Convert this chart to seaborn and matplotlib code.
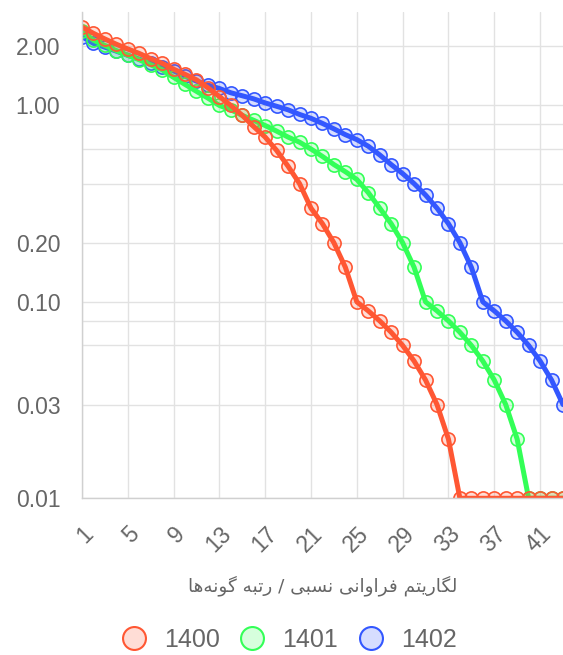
import pandas as pd
import numpy as np
import seaborn as sns
import matplotlib.pyplot as plt
from matplotlib.colors import to_rgba
from matplotlib.lines import Line2D
from matplotlib.ticker import FixedLocator, FixedFormatter

# rank of species (x) and relative frequency per year (y, log scale)
rank = list(range(1, 44))
years = ['1400', '1401', '1402']
colors = ['#FF5733', '#33FF57', '#3357FF']

y1400 = [2.51, 2.33, 2.18, 2.05, 1.94, 1.84, 1.73, 1.64, 1.53, 1.44,
         1.35, 1.23, 1.11, 1.00, 0.89, 0.78, 0.69, 0.59, 0.49, 0.40,
         0.30, 0.25, 0.20, 0.15, 0.10, 0.09, 0.08, 0.07, 0.06, 0.05,
         0.04, 0.03, 0.02, 0.01, 0.01, 0.01, 0.01, 0.01, 0.01, 0.01,
         0.01, 0.01, 0.01]
y1401 = [2.39, 2.15, 2.02, 1.90, 1.80, 1.71, 1.61, 1.52, 1.39, 1.28,
         1.18, 1.09, 1.00, 0.95, 0.89, 0.84, 0.79, 0.74, 0.69, 0.65,
         0.60, 0.55, 0.50, 0.46, 0.42, 0.36, 0.30, 0.25, 0.20, 0.15,
         0.10, 0.09, 0.08, 0.07, 0.06, 0.05, 0.04, 0.03, 0.02, 0.01,
         0.01, 0.01, 0.01]
y1402 = [2.24, 2.07, 1.98, 1.89, 1.80, 1.72, 1.64, 1.57, 1.50, 1.41,
         1.33, 1.27, 1.22, 1.16, 1.12, 1.08, 1.03, 0.99, 0.95, 0.90,
         0.86, 0.81, 0.76, 0.71, 0.67, 0.62, 0.56, 0.50, 0.45, 0.40,
         0.35, 0.30, 0.25, 0.20, 0.15, 0.10, 0.09, 0.08, 0.07, 0.06,
         0.05, 0.04, 0.03]

ytick_vals = [0.01, 0.03, 0.06, 0.08, 0.1, 0.2, 0.4, 0.6, 0.8, 1.0, 2.0]
ytick_labels = ['0.01', '0.03', '', '', '0.10', '0.20', '', '', '', '1.00', '2.00']
xtick_vals = [1, 5, 9, 13, 17, 21, 25, 29, 33, 37, 41]

xlabel = 'لگاریتم فراوانی نسبی / رتبه گونه‌ها'

# matplotlib does no arabic shaping, so pick the contextual forms by hand
# (isolated, final, initial, medial)
FORMS = {
    'ا': ('\uFE8D', '\uFE8E', None, None),
    'ب': ('\uFE8F', '\uFE90', '\uFE91', '\uFE92'),
    'ت': ('\uFE95', '\uFE96', '\uFE97', '\uFE98'),
    'ر': ('\uFEAD', '\uFEAE', None, None),
    'س': ('\uFEB1', '\uFEB2', '\uFEB3', '\uFEB4'),
    'ف': ('\uFED1', '\uFED2', '\uFED3', '\uFED4'),
    'ل': ('\uFEDD', '\uFEDE', '\uFEDF', '\uFEE0'),
    'م': ('\uFEE1', '\uFEE2', '\uFEE3', '\uFEE4'),
    'ن': ('\uFEE5', '\uFEE6', '\uFEE7', '\uFEE8'),
    'ه': ('\uFEE9', '\uFEEA', '\uFEEB', '\uFEEC'),
    'و': ('\uFEED', '\uFEEE', None, None),
    'ی': ('\uFBFC', '\uFBFD', '\uFBFE', '\uFBFF'),
    'گ': ('\uFB92', '\uFB93', '\uFB94', '\uFB95'),
}

def shape_fa(text):
    def dual(c):
        return c in FORMS and FORMS[c][2] is not None
    out = []
    for i, c in enumerate(text):
        if c not in FORMS:
            out.append(c)
            continue
        prev = text[i - 1] if i > 0 else ''
        nxt = text[i + 1] if i + 1 < len(text) else ''
        jp = dual(prev)
        jn = dual(c) and nxt in FORMS
        iso, fin, ini, med = FORMS[c]
        if jp and jn:
            out.append(med)
        elif jp:
            out.append(fin)
        elif jn:
            out.append(ini)
        else:
            out.append(iso)
    return ''.join(out).replace('\u200c', '')[::-1]

df = pd.DataFrame({
    'rank': rank * 3,
    'value': y1400 + y1401 + y1402,
    'year': ['1400'] * 43 + ['1401'] * 43 + ['1402'] * 43,
})

sns.set_style('white')
plt.rcParams['font.family'] = ['Liberation Sans', 'DejaVu Sans']

grid_c = '#e2e2e2'
text_c = '#666666'

fig = plt.figure(figsize=(5.63, 6.55), dpi=100)
ax = fig.add_axes([81.9 / 563, 1 - 498.3 / 655, 1 - 81.9 / 563, (498.3 - 12) / 655])

# 1400 drawn last so it sits on top
for yr, c in reversed(list(zip(years, colors))):
    sns.lineplot(data=df[df['year'] == yr], x='rank', y='value', ax=ax,
                 color=c, linewidth=3.6, marker='o', markersize=9.5,
                 markerfacecolor=to_rgba(c, 0.2), markeredgecolor=c,
                 markeredgewidth=1.2, legend=False)

ax.set_yscale('log')
ax.set_ylim(0.01, 2.99)
ax.set_xlim(1, 43)

ax.yaxis.set_major_locator(FixedLocator(ytick_vals))
ax.yaxis.set_major_formatter(FixedFormatter(ytick_labels))
ax.yaxis.set_minor_locator(FixedLocator([]))
ax.set_xticks(xtick_vals)
ax.set_xticklabels([str(v) for v in xtick_vals], rotation=45, ha='right',
                   va='top', rotation_mode='anchor')

ax.grid(True, color=grid_c, linewidth=1.0)
ax.tick_params(axis='both', length=11.5, width=1.0, color=grid_c,
               labelcolor=text_c, labelsize=16.5)
ax.tick_params(axis='y', pad=4)
ax.tick_params(axis='x', pad=6)
for s in ['top', 'right']:
    ax.spines[s].set_visible(False)
for s in ['left', 'bottom']:
    ax.spines[s].set_color('#d0d0d0')
    ax.spines[s].set_linewidth(1.0)

ax.set_ylabel('')
ax.set_xlabel(shape_fa(xlabel), fontsize=13.3, color=text_c, family=['DejaVu Sans'])
ax.xaxis.set_label_coords(0.5, -(586 - 498.3) / 486.3)
ax.xaxis.label.set_va('center')

handles = [Line2D([], [], linestyle='none', marker='o', markersize=16.5,
                  markerfacecolor=to_rgba(c, 0.2), markeredgecolor=c,
                  markeredgewidth=1.5) for c in colors]
fig.legend(handles, years, loc='center', bbox_to_anchor=(289 / 563, 1 - 640 / 655),
           ncol=3, frameon=False, fontsize=18, handlelength=1.0,
           handletextpad=0.7, columnspacing=0.8, labelcolor=text_c)

plt.savefig('out.png', dpi=100)
